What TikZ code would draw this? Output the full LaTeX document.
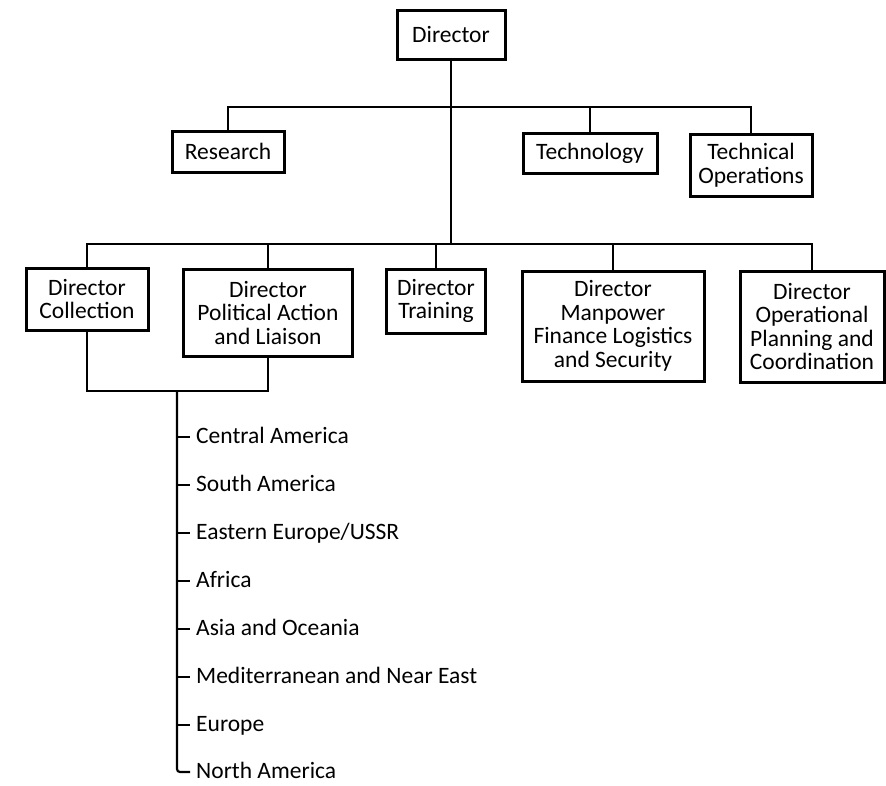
\documentclass[tikz,border=0pt]{standalone}
\usepackage{fontspec}
\setmainfont{Carlito}
\begin{document}
\begin{tikzpicture}[x=1pt,y=-1pt,
  unit/.style={draw, line width=3pt, inner sep=0pt, align=center,
    font=\fontsize{23.5}{23.5}\selectfont},
  wire/.style={line width=2.2pt},
  region/.style={anchor=west, inner sep=0pt, text height=12pt, text depth=0pt,
    font=\fontsize{23.5}{23.5}\selectfont}]
\useasboundingbox (0,0) rectangle (886,785);

% top level
\node[unit, minimum width=108, minimum height=49] (dir) at (451,34.5) {Director};

% staff offices
\node[unit, minimum width=112, minimum height=41] (res) at (228,151.5) {Research};
\node[unit, minimum width=134, minimum height=40] (tech) at (590,153) {Technology};
\node[unit, minimum width=122, minimum height=62] (tops) at (751,165) {Technical\\Operations};

% directorates
\node[unit, minimum width=122, minimum height=62] (coll) at (87,299) {Director\\Collection};
\node[unit, minimum width=169, minimum height=87] (pal) at (268,312.5) {Director\\Political Action\\and Liaison};
\node[unit, minimum width=99, minimum height=64] (train) at (436,301) {Director\\Training};
\node[unit, minimum width=182, minimum height=110] (mfl) at (613,326) {Director\\Manpower\\Finance Logistics\\and Security};
\node[unit, minimum width=144, minimum height=111] (opc) at (812,326.5) {Director\\Operational\\Planning and\\Coordination};

% bus levels
\coordinate (bus1) at (451,107);
\coordinate (bus2) at (451,244);
\coordinate (join) at (177,391);

% director to staff offices
\draw[wire] (dir.south) -- (dir.south |- bus2);
\draw[wire] (res.north) -- (res.north |- bus1) -- (tops.north |- bus1) -- (tops.north);
\draw[wire] (tech.north) -- (tech.north |- bus1);

% director to directorates
\draw[wire] (coll.north) -- (coll.north |- bus2) -- (opc.north |- bus2) -- (opc.north);
\draw[wire] (pal.north) -- (pal.north |- bus2);
\draw[wire] (train.north) -- (train.north |- bus2);
\draw[wire] (mfl.north) -- (mfl.north |- bus2);

% collection and political action share the regional divisions
\draw[wire] (coll.south) -- (coll.south |- join) -- (pal.south |- join) -- (pal.south);

% regional divisions
\node[region] (r1) at (196,437) {Central America};
\node[region] (r2) at (196,485) {South America};
\node[region] (r3) at (196,533) {Eastern Europe/USSR};
\node[region] (r4) at (196,581) {Africa};
\node[region] (r5) at (196,629) {Asia and Oceania};
\node[region] (r6) at (196,677) {Mediterranean and Near East};
\node[region] (r7) at (196,725) {Europe};
\node[region] (r8) at (196,772) {North America};

\draw[wire, rounded corners=3pt] (join) |- ([xshift=-6pt]r8.west);
\foreach \r in {r1,r2,r3,r4,r5,r6,r7}
  \draw[wire] (\r.west -| join) -- ([xshift=-6pt]\r.west);
\end{tikzpicture}
\end{document}
